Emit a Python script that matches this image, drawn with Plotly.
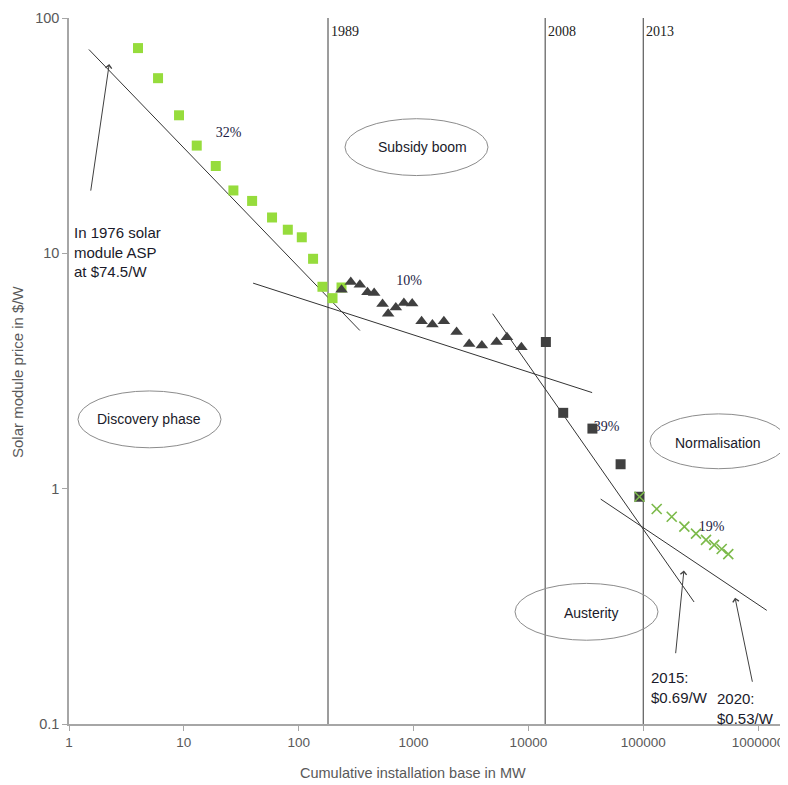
import math
import plotly.graph_objects as go

# ---- data (cumulative MW, $/W) ----
disc_x = [3.99, 5.96, 9.08, 12.95, 18.97, 27.0, 39.3, 58.6, 80.4, 106.4, 133.4, 161, 197, 236]
disc_y = [74.5, 55.5, 38.6, 28.7, 23.5, 18.5, 16.7, 14.2, 12.6, 11.7, 9.48, 7.21, 6.45, 7.16]

boom_x = [236, 284, 341, 397, 454, 537, 601, 701, 824, 973, 1175, 1460, 1837, 2370, 3051, 3935, 5285, 6500, 8690]
boom_y = [7.00, 7.55, 7.36, 6.84, 6.78, 6.09, 5.54, 5.89, 6.15, 6.12, 5.14, 4.98, 5.14, 4.63, 4.12, 4.06, 4.20, 4.40, 3.99]

aust_x = [14200, 20100, 36100, 63500, 92700]
aust_y = [4.20, 2.10, 1.80, 1.27, 0.924]

norm_x = [92700, 131000, 177000, 228000, 288000, 352000, 415000, 482000, 550000]
norm_y = [0.924, 0.820, 0.760, 0.690, 0.644, 0.606, 0.577, 0.554, 0.527]

# trend lines: [x_start, x_end], [y_start, y_end]
trend_names = ["32%", "10%", "39%", "19%"]
trend_x = [[1.49, 341], [40.1, 35900], [4880, 277000], [42600, 1190000]]
trend_y = [[73.5, 4.70], [7.47, 2.56], [5.54, 0.330], [0.903, 0.304]]

# learning-rate labels
rate_x = [24.5, 916, 48000, 394000]
rate_y = [32.3, 7.60, 1.816, 0.685]

# year markers
years = ["1989", "2008", "2013"]
year_x = [180, 14000, 100000]

x_ticks = [1, 10, 100, 1000, 10000, 100000, 1000000]
x_ticktext = ["1", "10", "100", "1000", "10000", "100000", "1000000"]
y_ticks = [0.1, 1, 10, 100]
y_ticktext = ["0.1", "1", "10", "100"]

# callout arrows: (tail_x, tail_y, head_x, head_y)
arrows = [(1.54, 18.2, 2.24, 63.7), (191000, 0.197, 226000, 0.449), (897000, 0.149, 630000, 0.344)]

# page body has an 8px margin
OFF = 8
W, H = 788 - OFF, 785 - OFF
ML, MR, MT, MB = 61, 2, 8, 61
PW, PH = W - ML - MR, H - MT - MB
PL, PT = OFF + ML, OFF + MT  # plot area screen origin


def px(x):
    return (x - PL) / PW


def py(y):
    return (PT + PH - y) / PH


SANS = "Liberation Sans, Arial, sans-serif"
SERIF = "Liberation Serif, Times New Roman, serif"
TXT = "#1a1a2a"

fig = go.Figure()

# year vertical lines
for yx in year_x:
    fig.add_trace(go.Scatter(x=[yx, yx], y=[0.1, 100], mode="lines",
                             line=dict(color="#3a3a3a", width=1), hoverinfo="skip", showlegend=False))

# percentage labels (drawn below markers)
fig.add_trace(go.Scatter(x=rate_x, y=rate_y, mode="text", text=trend_names,
                         textfont=dict(family=SERIF, size=14, color="#1c1c44"),
                         hoverinfo="skip", showlegend=False))

# trend lines
for tx, ty in zip(trend_x, trend_y):
    fig.add_trace(go.Scatter(x=tx, y=ty, mode="lines", line=dict(color="#333333", width=1),
                             hoverinfo="skip", showlegend=False))

fig.add_trace(go.Scatter(x=disc_x, y=disc_y, mode="markers",
                         marker=dict(symbol="square", size=10, color="#96dc3c"), showlegend=False))
fig.add_trace(go.Scatter(x=boom_x, y=boom_y, mode="markers",
                         marker=dict(symbol="triangle-up", size=11, color="#404040"), showlegend=False))
fig.add_trace(go.Scatter(x=aust_x, y=aust_y, mode="markers",
                         marker=dict(symbol="square", size=10, color="#404040"), showlegend=False))
fig.add_trace(go.Scatter(x=norm_x, y=norm_y, mode="markers",
                         marker=dict(symbol="x-thin-open", size=10, color="#7cba4a",
                                     line=dict(width=1.6, color="#7cba4a")), showlegend=False))

# ellipses
ellipses = [(345, 117, 488, 174), (78, 390, 221, 447), (650, 413, 787, 468), (515, 583, 658, 640)]
for x0, y0, x1, y1 in ellipses:
    fig.add_shape(type="circle", xref="paper", yref="paper", x0=px(x0), x1=px(x1), y0=py(y1), y1=py(y0),
                  line=dict(color="#8c8c8c", width=1))

annotations = []
phase_labels = [("Subsidy boom", 422, 145), ("Discovery phase", 149, 418),
                ("Normalisation", 718, 442), ("Austerity", 591, 613)]
for t, x, y in phase_labels:
    annotations.append(dict(text=t, xref="paper", yref="paper", x=px(x), y=py(y), showarrow=False,
                            xanchor="center", yanchor="middle",
                            font=dict(family=SANS, size=14, color=TXT)))

for yr, yx in zip(years, year_x):
    annotations.append(dict(text=yr, x=math.log10(yx), xref="x", yref="paper", y=py(30),
                            xanchor="left", yanchor="middle", xshift=1, showarrow=False,
                            font=dict(family=SERIF, size=14, color="#222222")))

annotations.append(dict(text="In 1976 solar<br>module ASP<br>at $74.5/W", xref="paper", yref="paper",
                        x=px(72), y=py(251), xanchor="left", yanchor="middle", align="left", showarrow=False,
                        font=dict(family=SANS, size=15, color=TXT)))
annotations.append(dict(text="2015:<br>$0.69/W", xref="paper", yref="paper",
                        x=px(649), y=py(687), xanchor="left", yanchor="middle", align="left", showarrow=False,
                        font=dict(family=SANS, size=15, color=TXT)))
annotations.append(dict(text="2020:<br>$0.53/W", xref="paper", yref="paper",
                        x=px(715), y=py(708), xanchor="left", yanchor="middle", align="left", showarrow=False,
                        font=dict(family=SANS, size=15, color=TXT)))

for tx, ty, hx, hy in arrows:
    annotations.append(dict(text="", x=math.log10(hx), y=math.log10(hy), ax=math.log10(tx), ay=math.log10(ty),
                            xref="x", yref="y", axref="x", ayref="y", showarrow=True,
                            arrowhead=4, arrowsize=1.2, arrowwidth=1, arrowcolor="#404040"))

# axis titles
annotations.append(dict(text="Cumulative installation base in MW", xref="paper", yref="paper",
                        x=px(413), y=py(773), xanchor="center", yanchor="middle", showarrow=False,
                        font=dict(family=SANS, size=14.5, color="#595959")))
annotations.append(dict(text="Solar module price in $/W", xref="paper", yref="paper",
                        x=px(18), y=py(371), xanchor="center", yanchor="middle", showarrow=False, textangle=-90,
                        font=dict(family=SANS, size=15, color="#595959")))

fig.update_layout(
    width=W, height=H, margin=dict(l=ML, r=MR, t=MT, b=MB),
    plot_bgcolor="white", paper_bgcolor="white",
    annotations=annotations,
    xaxis=dict(type="log", range=[0, math.log10(1750000)], showgrid=False, zeroline=False,
               showline=True, linecolor="#a6a6a6", linewidth=1.5, ticks="outside", ticklen=5,
               tickcolor="#a6a6a6", tickvals=x_ticks, ticktext=x_ticktext,
               tickfont=dict(family=SANS, size=13.5, color="#595959")),
    yaxis=dict(type="log", range=[-1, 2], showgrid=False, zeroline=False,
               showline=True, linecolor="#a6a6a6", linewidth=1.5, ticks="outside", ticklen=5,
               tickcolor="#a6a6a6", tickvals=y_ticks, ticktext=y_ticktext,
               tickfont=dict(family=SANS, size=14.5, color="#595959")),
)

fig.write_html("out.html")
